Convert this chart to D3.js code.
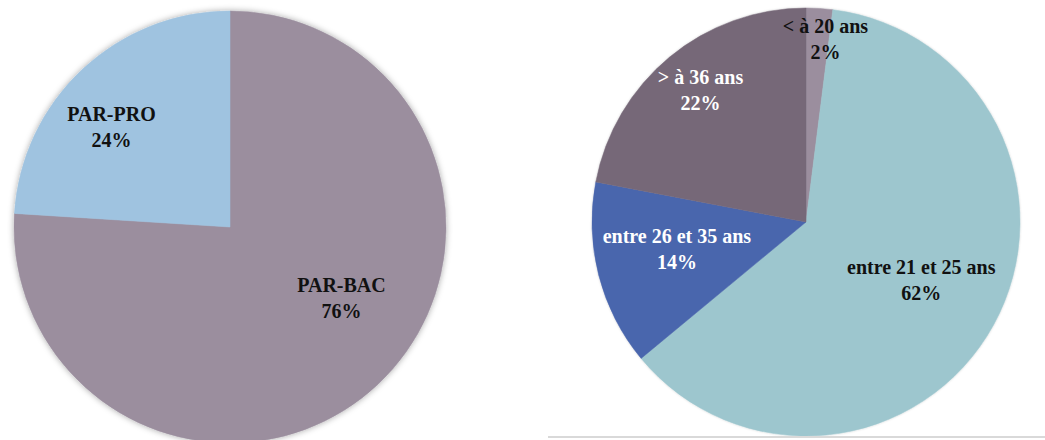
<!DOCTYPE html>
<html>
<head>
<meta charset="utf-8">
<script src="https://cdn.jsdelivr.net/npm/d3@7"></script>
<style>
  html, body { margin: 0; padding: 0; background: #ffffff; }
  svg { display: block; }
</style>
</head>
<body>
<svg id="chart" width="1045" height="440"></svg>
<script>
// Left pie: type of course
const filiereLabels = ["PAR-BAC", "PAR-PRO"];
const filiereValues = [76, 24];
const filiereColors = ["#9b8e9e", "#9fc3e0"];
const filiereText   = ["#111111", "#111111"];
const filiereNudge  = [[8, -39], [-15, 10]];

// Right pie: age groups
const ageLabels = ["< à 20 ans", "entre 21 et 25 ans", "entre 26 et 35 ans", "> à 36 ans"];
const ageValues = [2, 62, 14, 22];
const ageColors = ["#9b8e9e", "#9dc6ce", "#4a66ad", "#766878"];
const ageText   = ["#111111", "#111111", "#ffffff", "#ffffff"];
const ageNudge  = [[10, -33], [-16, -14], [16, -10], [-10, -17]];

const svg = d3.select("#chart");

const defs = svg.append("defs");
const shadow = defs.append("filter").attr("id", "soft-shadow")
  .attr("x", "-10%").attr("y", "-10%").attr("width", "120%").attr("height", "120%");
shadow.append("feDropShadow")
  .attr("dx", 0).attr("dy", 0).attr("stdDeviation", 3)
  .attr("flood-color", "#000").attr("flood-opacity", 0.35);

const lightShadow = defs.append("filter").attr("id", "light-shadow")
  .attr("x", "-10%").attr("y", "-10%").attr("width", "120%").attr("height", "120%");
lightShadow.append("feDropShadow")
  .attr("dx", 0).attr("dy", 0).attr("stdDeviation", 1.2)
  .attr("flood-color", "#000").attr("flood-opacity", 0.18);

function drawPie(cfg) {
  const g = svg.append("g").attr("transform", `translate(${cfg.cx},${cfg.cy})`);
  const data = cfg.labels.map((l, i) => ({ label: l, value: cfg.values[i], i }));
  const pie = d3.pie().value(d => d.value).sort(null);
  const arcs = pie(data);
  const arc = d3.arc().innerRadius(0).outerRadius(cfg.r);
  const labelArc = d3.arc().innerRadius(cfg.r * 0.7).outerRadius(cfg.r * 0.7);

  g.append("g").attr("filter", `url(#${cfg.filter})`)
    .selectAll("path").data(arcs).join("path")
    .attr("d", arc)
    .attr("fill", d => cfg.colors[d.data.i])
    .attr("stroke", d => cfg.colors[d.data.i])
    .attr("stroke-width", 0.5);

  const lbl = g.selectAll("text.lbl").data(arcs).join("text")
    .attr("class", "lbl")
    .attr("text-anchor", "middle")
    .style("font-family", '"Liberation Serif"')
    .style("font-weight", "bold")
    .style("font-size", "20px")
    .attr("fill", d => cfg.textColors[d.data.i])
    .attr("transform", d => {
      const c = labelArc.centroid(d);
      const n = cfg.nudge[d.data.i];
      return `translate(${c[0] + n[0]},${c[1] + n[1]})`;
    });
  lbl.append("tspan").attr("x", 0).attr("y", -6).text(d => d.data.label);
  lbl.append("tspan").attr("x", 0).attr("y", 20).text(d => d.data.value + "%");
}

drawPie({ cx: 230, cy: 227, r: 216, labels: filiereLabels, values: filiereValues,
          colors: filiereColors, textColors: filiereText, nudge: filiereNudge, filter: "soft-shadow" });

drawPie({ cx: 806, cy: 222, r: 214, labels: ageLabels, values: ageValues,
          colors: ageColors, textColors: ageText, nudge: ageNudge, filter: "light-shadow" });

// Frame line under the right chart
svg.append("line")
  .attr("x1", 548).attr("x2", 1045).attr("y1", 437).attr("y2", 437)
  .attr("stroke", "#d9d9d9").attr("stroke-width", 2);
</script>
</body>
</html>
